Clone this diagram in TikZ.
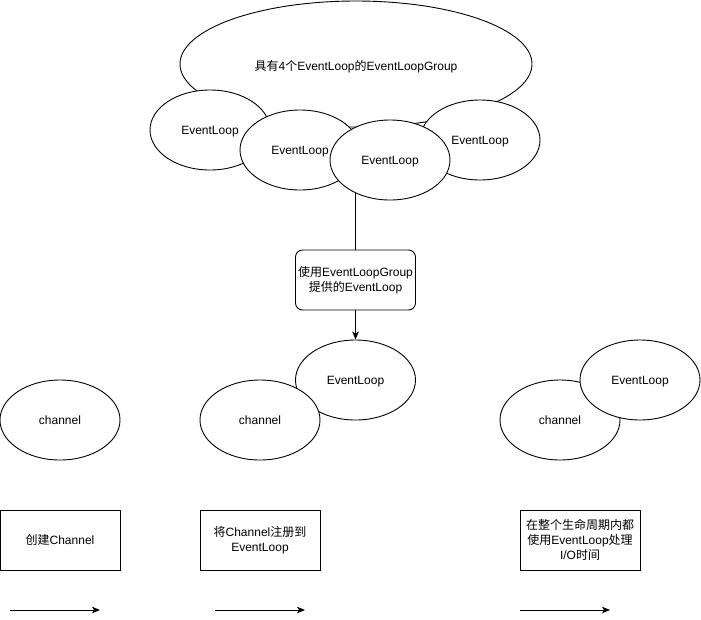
\documentclass[tikz,border=0pt]{standalone}
\usepackage{fontspec}
\setmainfont{Liberation Sans}
\newfontfamily\cjk{Noto Sans CJK SC}
\newcommand{\zh}[1]{{\cjk #1}}
\usetikzlibrary{shapes.geometric,arrows.meta}

\begin{document}
\begin{tikzpicture}[x=1pt, y=-1pt, line width=0.9pt,
		loop/.style={ellipse, draw, fill=white, minimum width=120pt, minimum height=80pt, inner sep=0pt, text height=9pt, text depth=1pt},
		stepbox/.style={rectangle, draw, fill=white, minimum width=120pt, minimum height=60pt, inner sep=2pt, align=center},
		every node/.style={font=\fontsize{12}{15}\selectfont},
		tip/.style={-{Stealth[length=8pt, width=6.5pt, inset=2pt]}}]
		
		\useasboundingbox (0, 0) rectangle (701, 619);
		
		% group of four loops
		\node [loop, minimum width=352pt, minimum height=126pt] (grp) at (356, 64) {};
		\node at (356, 66.5) {\zh{具有}4\zh{个}EventLoop\zh{的}EventLoopGroup};
		\node [loop] (loopa) at (210, 130) {EventLoop};
		\node [loop] (loopd) at (480, 140) {EventLoop};
		\node [loop] (loopb) at (300, 150) {EventLoop};
		\node [loop] (loopc) at (390, 160) {EventLoop};
		
		\node [stepbox, rounded corners=7pt] (pick) at (355.5, 280) {\zh{使用}EventLoopGroup\\\zh{提供的}EventLoop};
		\draw (pick.north) -- (pick.north |- loopc.223);
		
		% channel states
		\node [loop] (chana) at (60, 420) {channel};
		
		\node [loop] (loopreg) at (355.5, 380) {EventLoop};
		\node [loop] (chanb) at (260, 420) {channel};
		\draw [tip] (pick.south) -- (loopreg.north);
		
		\node [loop] (chanc) at (560, 420) {channel};
		\node [loop] (looprun) at (640, 380) {EventLoop};
		
		% steps
		\node [stepbox] (create) at (60, 540) {\zh{创建}Channel};
		\node [stepbox] (register) at (260, 540) {\zh{将}Channel\zh{注册到}\\EventLoop};
		\node [stepbox, inner sep=1pt] (handle) at (580, 540) {\zh{在整个生命周期内都}\\\zh{使用}EventLoop\zh{处理}\\I/O\zh{时间}};
		
		\coordinate (starta) at (10, 610);
		\coordinate (enda) at (100, 610);
		\coordinate (startb) at (215, 610);
		\coordinate (endb) at (305, 610);
		\coordinate (startc) at (520, 610);
		\coordinate (endc) at (610, 610);
		\draw [tip] (starta) -- (enda);
		\draw [tip] (startb) -- (endb);
		\draw [tip] (startc) -- (endc);
		
\end{tikzpicture}
\end{document}
